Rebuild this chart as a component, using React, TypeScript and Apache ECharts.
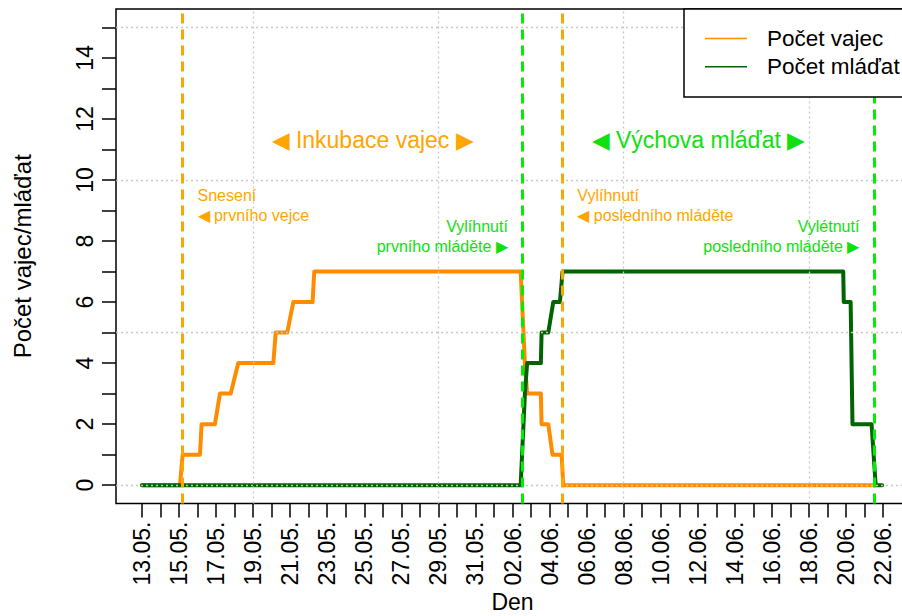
import React, { useEffect, useRef } from "react";
import * as echarts from "echarts";

// ---- data (x = days since 13.05.) ----
const eggDays = [0, 2.05, 2.2, 3.13, 3.22, 3.94, 4.21, 4.79, 5.2, 7.09, 7.22, 7.84, 8.17, 9.21, 9.3, 20.44, 20.67, 20.79, 21.53, 21.57, 21.93, 22.16, 22.65, 22.74, 39.47];
const eggCounts = [0, 0, 1, 1, 2, 2, 3, 3, 4, 4, 5, 5, 6, 6, 7, 7, 4, 3, 3, 2, 2, 1, 1, 0, 0];
const chickDays = [0, 20.44, 20.67, 20.79, 21.53, 21.57, 21.93, 22.2, 22.56, 22.7, 37.85, 37.88, 38.25, 38.35, 39.38, 39.6, 39.95];
const chickCounts = [0, 0, 3, 4, 4, 5, 5, 6, 6, 7, 7, 6, 6, 2, 2, 0, 0];

const eventDays = [2.2, 20.55, 22.7, 39.52];
const eventKinds = ["egg", "chick", "egg", "chick"];

const xTickDays = [0, 1, 2, 3, 4, 5, 6, 7, 8, 9, 10, 11, 12, 13, 14, 15, 16, 17, 18, 19, 20, 21, 22, 23, 24, 25, 26, 27, 28, 29, 30, 31, 32, 33, 34, 35, 36, 37, 38, 39, 40];
const xLabelDays = [0, 2, 4, 6, 8, 10, 12, 14, 16, 18, 20, 22, 24, 26, 28, 30, 32, 34, 36, 38, 40];
const xLabelTexts = ["13.05.", "15.05.", "17.05.", "19.05.", "21.05.", "23.05.", "25.05.", "27.05.", "29.05.", "31.05.", "02.06.", "04.06.", "06.06.", "08.06.", "10.06.", "12.06.", "14.06.", "16.06.", "18.06.", "20.06.", "22.06."];
const yTickValues = [0, 1, 2, 3, 4, 5, 6, 7, 8, 9, 10, 11, 12, 13, 14, 15];
const yLabelValues = [0, 2, 4, 6, 8, 10, 12, 14];
const gridXDays = [6, 16, 26, 36];
const gridYValues = [0, 5, 10, 15];

const xTitle = "Den";
const yTitle = "Počet vajec/mláďat";
const seriesNames = ["Počet vajec", "Počet mláďat"];
const phaseLabels = ["◀ Inkubace vajec ▶", "◀ Výchova mláďat ▶"];
const eventLabels = [
  "Snesení\n◀ prvního vejce",
  "Vylíhnutí\nprvního mláděte ▶",
  "Vylíhnutí\n◀ posledního mláděte",
  "Vylétnutí\nposledního mláděte ▶",
];

// ---- styles ----
const FONT = "'Liberation Sans', Arial, Helvetica, sans-serif";
const ORANGE_LINE = "#FF8C00";
const GREEN_LINE = "#006400";
const ORANGE = "#FFA500";
const GREEN = "#00EE00";
const GREEN_TEXT = "#10E010";

export default function App() {
  const ref = useRef<HTMLDivElement>(null);

  useEffect(() => {
    if (!ref.current) return;
    const chart = echarts.init(ref.current, undefined, { renderer: "svg" });

    const option: any = {
      animation: false,
      backgroundColor: "#ffffff",
      grid: {
        left: 116,
        top: 9,
        width: 793,
        height: 494.5,
        containLabel: false,
        outerBoundsMode: "none",
        show: true,
        borderColor: "#000",
        borderWidth: 1.5,
        backgroundColor: "transparent",
      },
      xAxis: {
        type: "value",
        min: -1.4,
        max: 41.4,
        axisLine: { show: false, onZero: false },
        splitLine: { show: false },
        axisTick: {
          show: true,
          customValues: xTickDays,
          length: 14,
          lineStyle: { color: "#000", width: 1.5 },
        },
        axisLabel: {
          customValues: xLabelDays,
          rotate: 90,
          margin: 18,
          fontSize: 23,
          color: "#000",
          fontFamily: FONT,
          formatter: (v: number) => {
            const i = xLabelDays.indexOf(Math.round(v));
            return i >= 0 ? xLabelTexts[i] : "";
          },
        },
      },
      yAxis: {
        type: "value",
        min: -0.6,
        max: 15.6,
        axisLine: { show: false, onZero: false },
        splitLine: { show: false },
        axisTick: {
          show: true,
          customValues: yTickValues,
          length: 14,
          lineStyle: { color: "#000", width: 1.5 },
        },
        axisLabel: {
          customValues: yLabelValues,
          rotate: 90,
          margin: 20,
          fontSize: 23,
          color: "#000",
          fontFamily: FONT,
        },
        name: yTitle,
        nameLocation: "middle",
        nameGap: 82,
        nameTextStyle: { fontSize: 24, color: "#000", fontFamily: FONT },
      },
      series: [
        {
          type: "line",
          name: seriesNames[0],
          data: eggDays.map((d, i) => [d, eggCounts[i]]),
          symbol: "none",
          showSymbol: false,
          lineStyle: { color: ORANGE_LINE, width: 4, cap: "round", join: "round" },
          z: 2,
        },
        {
          type: "line",
          name: seriesNames[1],
          data: chickDays.map((d, i) => [d, chickCounts[i]]),
          symbol: "none",
          showSymbol: false,
          lineStyle: { color: GREEN_LINE, width: 4, cap: "round", join: "round" },
          z: 3,
        },
        {
          type: "line",
          data: [],
          silent: true,
          z: 4,
          markLine: {
            silent: true,
            symbol: ["none", "none"],
            label: { show: false },
            lineStyle: { color: "#C8C8C8", type: [2, 3], width: 1.3 },
            data: [
              ...gridYValues.map((v) => ({ yAxis: v })),
              ...gridXDays.map((v) => ({ xAxis: v })),
            ],
          },
        },
        {
          type: "line",
          data: [],
          silent: true,
          z: 5,
          markLine: {
            silent: true,
            symbol: ["none", "none"],
            label: { show: false },
            data: eventDays.map((d, i) => ({
              xAxis: d,
              lineStyle: {
                color: eventKinds[i] === "egg" ? ORANGE : GREEN,
                type: [10, 6],
                width: 3,
              },
            })),
          },
        },
      ],
    };
    chart.setOption(option);

    const px = (x: number, y: number) => chart.convertToPixel({ gridIndex: 0 }, [x, y]) as number[];

    const elements: any[] = [];
    // x-axis title, centred under the plot area
    const plotLeft = px(-1.4, 0)[0];
    const plotRight = px(41.4, 0)[0];
    elements.push({
      type: "text",
      x: (plotLeft + plotRight) / 2,
      y: 602,
      z: 100,
      style: {
        text: xTitle,
        fill: "#000",
        fontSize: 23,
        fontFamily: FONT,
        align: "center",
        verticalAlign: "middle",
      },
    });
    const phaseCenters = [(eventDays[0] + eventDays[2]) / 2, (eventDays[1] + eventDays[3]) / 2];
    phaseLabels.forEach((t, i) => {
      const p = px(phaseCenters[i], 11.32);
      elements.push({
        type: "text",
        x: p[0],
        y: p[1],
        z: 100,
        style: {
          text: t,
          fill: i === 0 ? ORANGE : GREEN_TEXT,
          fontSize: 23,
          fontFamily: FONT,
          align: "center",
          verticalAlign: "middle",
        },
      });
    });
    eventLabels.forEach((t, i) => {
      const isEgg = eventKinds[i] === "egg";
      const p = px(eventDays[i] + (isEgg ? 0.8 : -0.8), isEgg ? 9.16 : 8.15);
      elements.push({
        type: "text",
        x: p[0],
        y: p[1],
        z: 100,
        style: {
          text: t,
          fill: isEgg ? ORANGE : GREEN_TEXT,
          fontSize: 16,
          fontFamily: FONT,
          lineHeight: 20,
          align: isEgg ? "left" : "right",
          verticalAlign: "middle",
        },
      });
    });
    // legend
    elements.push({
      type: "rect",
      z: 110,
      shape: { x: 684, y: 9, width: 240, height: 88 },
      style: { fill: "#fff", stroke: "#000", lineWidth: 1.5 },
    });
    const legendColors = [ORANGE_LINE, GREEN_LINE];
    seriesNames.forEach((n, i) => {
      const y = 38.5 + i * 28.3;
      elements.push({
        type: "line",
        z: 111,
        shape: { x1: 705, y1: y, x2: 747, y2: y },
        style: { stroke: legendColors[i], lineWidth: 1.5 },
      });
      elements.push({
        type: "text",
        z: 111,
        x: 767,
        y: y,
        style: {
          text: n,
          fill: "#000",
          fontSize: 22.5,
          fontFamily: FONT,
          align: "left",
          verticalAlign: "middle",
        },
      });
    });
    chart.setOption({ graphic: { elements } });

    return () => chart.dispose();
  }, []);

  return (
    <div
      style={{
        position: "fixed",
        left: 0,
        top: 0,
        width: 902,
        height: 616,
        overflow: "hidden",
        background: "#fff",
      }}
    >
      <div ref={ref} style={{ width: 920, height: 616 }} />
    </div>
  );
}
